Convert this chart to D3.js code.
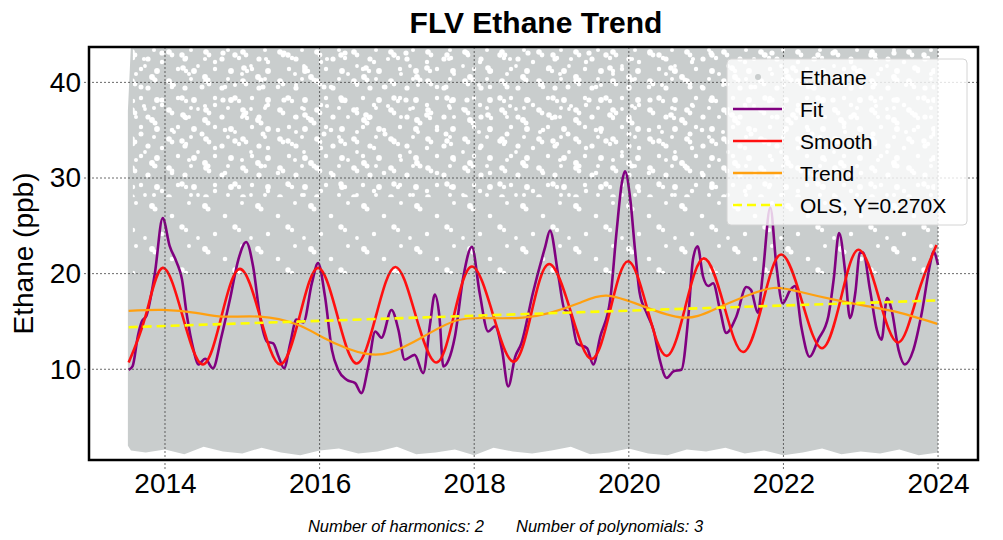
<!DOCTYPE html>
<html>
<head>
<meta charset="utf-8">
<script src="https://cdn.jsdelivr.net/npm/d3@7"></script>
<style>
  body { margin: 0; background: #fff; }
  text { font-family: "Liberation Sans", Arial, sans-serif; }
</style>
</head>
<body>
<div id="chart"></div>
<script>
// ---- data ----
var xTicks = [2014, 2016, 2018, 2020, 2022, 2024];
var yTicks = [10, 20, 30, 40];

// extent of the grey Ethane point cloud (ppb)
var cloudYears = [2013.52, 2013.56, 2013.75, 2014.0, 2014.25, 2014.5, 2014.75, 2015.0, 2015.25, 2015.5, 2015.75,
  2016.0, 2016.25, 2016.5, 2016.75, 2017.0, 2017.25, 2017.5, 2017.75, 2018.0, 2018.25, 2018.5, 2018.75,
  2019.0, 2019.25, 2019.5, 2019.75, 2020.0, 2020.25, 2020.5, 2020.75, 2021.0, 2021.25, 2021.5, 2021.75,
  2022.0, 2022.25, 2022.5, 2022.75, 2023.0, 2023.25, 2023.5, 2023.75, 2024.0];
var cloudLow = [2.0, 1.5, 1.3, 1.6, 1.1, 1.9, 1.4, 1.2, 1.8, 1.3, 1.0, 1.5, 1.7, 1.2, 1.4, 1.9, 1.1, 1.3, 1.6,
  1.0, 1.8, 1.4, 1.2, 1.5, 1.9, 1.1, 1.3, 1.7, 1.2, 1.0, 1.6, 1.4, 1.8, 1.2, 1.5, 1.0, 1.3, 1.7, 1.1, 1.4,
  1.2, 1.6, 1.0, 1.3];
var cloudHigh = [37, 44, 44, 44, 44, 44, 44, 44, 44, 44, 44, 44, 44, 44, 44, 44, 44, 44, 44, 44, 44, 44, 44,
  44, 44, 44, 44, 44, 44, 44, 44, 44, 44, 44, 44, 44, 44, 44, 44, 44, 44, 44, 44, 44];

// Fit (harmonics + polynomial)
var fitYears = [2013.53, 2013.58, 2013.65, 2013.70, 2013.76, 2013.87, 2013.97, 2014.06, 2014.15, 2014.22, 2014.28,
  2014.37, 2014.43, 2014.52, 2014.62, 2014.73, 2014.84, 2014.95, 2015.05, 2015.14, 2015.23, 2015.32, 2015.40,
  2015.47, 2015.54, 2015.62, 2015.70, 2015.79, 2015.90, 2015.98, 2016.07, 2016.16, 2016.24, 2016.35, 2016.46,
  2016.54, 2016.63, 2016.72, 2016.80, 2016.93, 2017.02, 2017.10, 2017.23, 2017.34, 2017.43, 2017.49, 2017.55,
  2017.60, 2017.67, 2017.75, 2017.86, 2017.97, 2018.07, 2018.18, 2018.27, 2018.36, 2018.44, 2018.53, 2018.61,
  2018.76, 2018.92, 2018.98, 2019.09, 2019.17, 2019.24, 2019.33, 2019.46, 2019.54, 2019.63, 2019.76, 2019.84,
  2019.91, 2019.95, 2020.02, 2020.08, 2020.14, 2020.23, 2020.32, 2020.40, 2020.49, 2020.58, 2020.68, 2020.77,
  2020.83, 2020.89, 2020.96, 2021.03, 2021.09, 2021.18, 2021.26, 2021.39, 2021.52, 2021.58, 2021.67, 2021.73,
  2021.83, 2021.91, 2021.99, 2022.09, 2022.15, 2022.23, 2022.34, 2022.45, 2022.58, 2022.65, 2022.72, 2022.80,
  2022.86, 2022.93, 2022.99, 2023.03, 2023.12, 2023.21, 2023.27, 2023.34, 2023.40, 2023.49, 2023.57, 2023.68,
  2023.79, 2023.90, 2023.94, 2024.0];
var fitValues = [9.95, 10.3, 13.5, 15.0, 15.6, 20.1, 25.8, 22.9, 21.2, 19.4, 15.8,
  12.0, 10.5, 11.1, 10.1, 13.4, 17.3, 21.5, 23.3, 20.75, 15.5, 12.9, 12.7,
  11.3, 10.1, 12.7, 15.2, 14.9, 19.0, 21.1, 17.6, 12.0, 9.95, 8.9, 8.55,
  7.5, 10.3, 13.95, 13.3, 16.2, 14.1, 11.0, 11.5, 9.6, 14.8, 17.8, 15.5,
  10.3, 11.0, 13.4, 19.7, 22.8, 18.0, 13.95, 14.5, 12.0, 8.2, 11.3, 12.7,
  18.0, 22.85, 24.5, 19.7, 16.2, 15.9, 12.7, 12.2, 10.5, 13.4, 17.3, 24.25,
  29.5, 30.7, 27.7, 22.5, 18.0, 15.9, 14.1, 11.0, 9.1, 9.8, 9.95, 15.5,
  21.5, 22.85, 19.7, 18.7, 19.0, 16.2, 13.8, 15.5, 18.6, 18.3, 15.9, 19.7,
  26.9, 20.75, 16.9, 18.3, 18.7, 14.5, 11.3, 13.1, 15.5, 19.4, 24.25, 20.1,
  15.35, 18.0, 22.2, 22.2, 18.3, 14.1, 13.1, 17.45, 16.2, 12.0, 10.5, 12.0,
  15.9, 21.1, 22.3, 20.9];

// Smooth
var smoothYears = [2013.53, 2013.75, 2013.97, 2014.23, 2014.49, 2014.73, 2014.97, 2015.23, 2015.49, 2015.74,
  2015.98, 2016.23, 2016.48, 2016.73, 2016.98, 2017.24, 2017.51, 2017.74, 2017.97, 2018.24, 2018.51, 2018.74,
  2018.97, 2019.25, 2019.52, 2019.76, 2019.99, 2020.24, 2020.49, 2020.73, 2020.97, 2021.23, 2021.48, 2021.73,
  2021.97, 2022.24, 2022.50, 2022.74, 2022.97, 2023.23, 2023.49, 2023.74, 2023.98];
var smoothValues = [10.7, 15.6, 20.6, 15.5, 10.5, 15.5, 20.5, 15.5, 10.5, 15.5,
  20.6, 15.6, 10.6, 15.6, 20.7, 15.7, 10.7, 15.7, 20.75, 15.8, 10.8, 15.9,
  21.0, 16.0, 11.07, 16.2, 21.3, 16.3, 11.4, 16.5, 21.6, 16.7, 11.8, 16.9,
  22.0, 17.1, 12.2, 17.3, 22.5, 17.6, 12.8, 17.9, 23.0];

// Trend
var trendYears = [2013.53, 2013.97, 2014.40, 2014.75, 2015.23, 2015.70, 2016.05, 2016.35, 2016.61, 2016.91,
  2017.34, 2017.77, 2018.20, 2018.63, 2018.98, 2019.35, 2019.71, 2020.18, 2020.70, 2021.09, 2021.50, 2021.87,
  2022.21, 2022.64, 2023.08, 2023.51, 2023.99];
var trendValues = [16.1, 16.2, 15.9, 15.5, 15.5, 14.7, 13.3, 12.2, 11.6, 11.75,
  13.4, 15.1, 15.35, 15.4, 15.9, 16.9, 17.7, 16.6, 15.4, 16.2, 17.6, 18.5,
  18.1, 17.3, 16.6, 15.9, 14.75];

// OLS line end points
var olsYears = [2013.53, 2024.0];
var olsValues = [14.4, 17.2];

var legendLabels = ["Ethane", "Fit", "Smooth", "Trend", "OLS, Y=0.270X"];

// ---- layout ----
var margin = {top: 47, right: 25, bottom: 80, left: 89},
    width = 1003 - margin.left - margin.right,
    height = 540 - margin.top - margin.bottom;

var svg = d3.select("#chart")
  .append("svg")
  .attr("width", 1003)
  .attr("height", 540);

var defs = svg.append("defs");
defs.append("clipPath").attr("id", "plotclip")
  .append("rect").attr("width", width).attr("height", height);

// white gaps between the grey dots in the upper part of the cloud
// tiles of different size so the holes do not line up
function holes(id, w, h, list) {
  var p = defs.append("pattern").attr("id", id)
    .attr("patternUnits", "userSpaceOnUse").attr("width", w).attr("height", h);
  list.forEach(function(c) {
    p.append("circle").attr("cx", c[0]).attr("cy", c[1]).attr("r", c[2]).attr("fill", "#fff");
  });
}
holes("holesA", 37, 29, [[6, 5, 2.8], [9, 8, 2.4], [22, 12, 2.6], [31, 24, 2.9], [15, 22, 2.2], [28, 3, 2.0]]);
holes("holesB", 53, 43, [[10, 30, 2.9], [13, 33, 2.5], [40, 8, 2.7], [44, 11, 2.2], [30, 40, 2.3],
  [47, 27, 2.0], [20, 15, 2.2], [3, 19, 1.9]]);
holes("holesC", 61, 47, [[12, 6, 2.6], [33, 21, 2.8], [36, 24, 2.2], [52, 40, 2.5], [24, 38, 2.0], [55, 12, 2.1]]);

var g = svg.append("g")
  .attr("transform", "translate(" + margin.left + "," + margin.top + ")");

var x = d3.scaleLinear().domain([2013.017, 2024.517]).range([0, width]);
var y = d3.scaleLinear().domain([0.51, 43.7]).range([height, 0]);

var plot = g.append("g").attr("clip-path", "url(#plotclip)");

// grey Ethane cloud
var cloud = cloudYears.map(function(d, i) { return {t: d, lo: cloudLow[i], hi: cloudHigh[i]}; });
plot.append("path")
  .datum(cloud)
  .attr("fill", "#c9cdcd")
  .attr("d", d3.area()
    .x(function(d) { return x(d.t); })
    .y0(function(d) { return y(d.lo); })
    .y1(function(d) { return y(d.hi); }));

var x0 = x(cloudYears[0]) + 5, x1 = x(cloudYears[cloudYears.length - 1]) - 3;
plot.append("rect")
  .attr("x", x0).attr("width", x1 - x0)
  .attr("y", 0).attr("height", y(20))
  .attr("fill", "url(#holesB)");
plot.append("rect")
  .attr("x", x0).attr("width", x1 - x0)
  .attr("y", 0).attr("height", y(28))
  .attr("fill", "url(#holesA)");
plot.append("rect")
  .attr("x", x0).attr("width", x1 - x0)
  .attr("y", 0).attr("height", y(34))
  .attr("fill", "url(#holesC)");

// grid
g.selectAll(".xgrid").data(xTicks).enter().append("line")
  .attr("x1", function(d) { return x(d); }).attr("x2", function(d) { return x(d); })
  .attr("y1", 0).attr("y2", height + 10)
  .attr("stroke", "#444").attr("stroke-width", 0.8).attr("stroke-dasharray", "2,2");
g.selectAll(".ygrid").data(yTicks).enter().append("line")
  .attr("x1", -5).attr("x2", width)
  .attr("y1", function(d) { return y(d); }).attr("y2", function(d) { return y(d); })
  .attr("stroke", "#444").attr("stroke-width", 0.8).attr("stroke-dasharray", "2,2");

// curves
function series(xs, vs) { return xs.map(function(d, i) { return [d, vs[i]]; }); }
function lineGen(curve) {
  return d3.line().x(function(d) { return x(d[0]); }).y(function(d) { return y(d[1]); }).curve(curve);
}

plot.append("path").datum(series(fitYears, fitValues))
  .attr("fill", "none").attr("stroke", "#800080").attr("stroke-width", 2.6)
  .attr("stroke-linejoin", "round")
  .attr("d", lineGen(d3.curveMonotoneX));
plot.append("path").datum(series(smoothYears, smoothValues))
  .attr("fill", "none").attr("stroke", "#ff1010").attr("stroke-width", 2.6)
  .attr("d", lineGen(d3.curveNatural));
plot.append("path").datum(series(trendYears, trendValues))
  .attr("fill", "none").attr("stroke", "#ffa010").attr("stroke-width", 2.2)
  .attr("d", lineGen(d3.curveNatural));
plot.append("path").datum(series(olsYears, olsValues))
  .attr("fill", "none").attr("stroke", "#ffff00").attr("stroke-width", 2.6)
  .attr("stroke-dasharray", "9,5")
  .attr("d", lineGen(d3.curveLinear));

// axes labels
var xAxis = g.append("g")
  .attr("transform", "translate(0," + height + ")")
  .call(d3.axisBottom(x).tickValues(xTicks).tickFormat(d3.format("d")).tickSize(0).tickPadding(13));
xAxis.select(".domain").remove();
xAxis.selectAll("text").style("font-size", "28px").attr("fill", "#000");

var yAxis = g.append("g")
  .call(d3.axisLeft(y).tickValues(yTicks).tickSize(0).tickPadding(8));
yAxis.select(".domain").remove();
yAxis.selectAll("text").style("font-size", "28px").attr("fill", "#000");

// frame
g.append("rect")
  .attr("width", width).attr("height", height)
  .attr("fill", "none").attr("stroke", "#000").attr("stroke-width", 2.5);

// legend
var lw = 240, lh = 166, lx = width - 11 - lw, ly = 12;
var leg = g.append("g").attr("transform", "translate(" + lx + "," + ly + ")");
leg.append("rect").attr("width", lw).attr("height", lh).attr("rx", 4)
  .attr("fill", "#fff").attr("fill-opacity", 0.8)
  .attr("stroke", "#d4d4d4").attr("stroke-width", 1);
var handleColors = [null, "#800080", "#ff1010", "#ffa010", "#ffff00"];
legendLabels.forEach(function(lab, i) {
  var ry = 18 + i * 32;
  if (i === 0) {
    leg.append("circle").attr("cx", 31).attr("cy", ry).attr("r", 3).attr("fill", "#c9cdcd");
  } else {
    leg.append("line").attr("x1", 6).attr("x2", 55).attr("y1", ry).attr("y2", ry)
      .attr("stroke", handleColors[i]).attr("stroke-width", 2.6)
      .attr("stroke-dasharray", i === 4 ? "9,5" : null);
  }
  leg.append("text").attr("x", 73).attr("y", ry).attr("dy", "0.36em")
    .style("font-size", "21px").text(lab);
});

// titles
svg.append("text").attr("x", 536).attr("y", 33).attr("text-anchor", "middle")
  .style("font-size", "30px").style("font-weight", "bold").text("FLV Ethane Trend");

svg.append("text")
  .attr("transform", "translate(33," + (margin.top + height / 2) + ")rotate(-90)")
  .attr("text-anchor", "middle")
  .style("font-size", "28px")
  .text("Ethane (ppb)");

svg.append("text").attr("x", 484).attr("y", 532).attr("text-anchor", "end")
  .style("font-size", "16.5px").style("font-style", "italic")
  .text("Number of harmonics: 2");
svg.append("text").attr("x", 516).attr("y", 532).attr("text-anchor", "start")
  .style("font-size", "16.5px").style("font-style", "italic")
  .text("Number of polynomials: 3");
</script>
</body>
</html>
